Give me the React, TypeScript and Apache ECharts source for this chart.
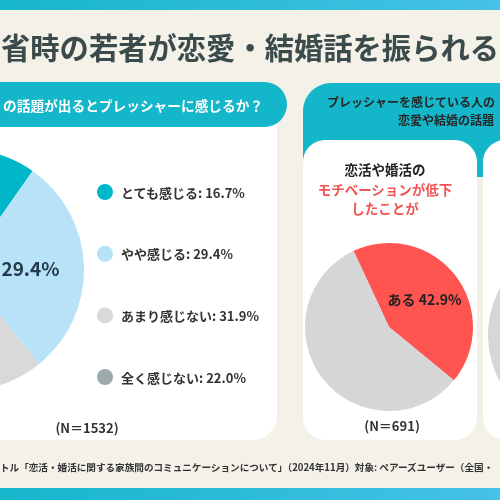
import React, { useEffect, useRef } from "react";
import * as echarts from "echarts";

const FONT = '"Noto Sans CJK JP", "Noto Sans", sans-serif';

const titleText = "省時の若者が恋愛・結婚話を振られる";
const leftHeader = "の話題が出るとプレッシャーに感じるか？";
const rightHeaderLines = ["プレッシャーを感じている人の", "恋愛や結婚の話題"];

const pressureCategories = ["とても感じる", "やや感じる", "あまり感じない", "全く感じない"];
const pressureValues = [16.7, 29.4, 31.9, 22.0];
const pressureColors = ["#00b6c9", "#b8e2f8", "#d9d9d9", "#9eaaaa"];
const pressureN = "(N＝1532)";

const motivationTitle = ["恋活や婚活の", "モチベーションが低下", "したことが"];
const motivationCategories = ["ある", "ない"];
const motivationValues = [42.9, 57.1];
const motivationN = "(N＝691)";

const secondCategories = ["ある", "ない"];
const secondValues = [40.0, 60.0];

const yesNoColors = ["#ff5450", "#d6d6d6"];

const footnote =
  "トル「恋活・婚活に関する家族間のコミュニケーションについて」（2024年11月）対象: ペアーズユーザー（全国・";

const TEAL = "#14b6ca";

export default function App() {
  const ref = useRef<HTMLDivElement>(null);
  useEffect(() => {
    if (!ref.current) return;
    const chart = echarts.init(ref.current, null, { renderer: "svg" });
    const valueMap: Record<string, number> = {};
    pressureCategories.forEach((c, i) => (valueMap[c] = pressureValues[i]));

    const band = () =>
      new echarts.graphic.LinearGradient(0, 0, 1, 0, [
        { offset: 0, color: "#16b6cb" },
        { offset: 1, color: "#45c2e6" },
      ]);

    const txt = (
      text: string,
      x: number,
      y: number,
      size: number,
      color: string,
      align: string = "left",
      weight: string = "bold"
    ) => ({
      type: "text",
      x,
      y,
      silent: true,
      style: {
        text,
        fill: color,
        fontSize: size,
        fontWeight: weight,
        fontFamily: FONT,
        textAlign: align,
        textVerticalAlign: "middle",
      },
    });

    const option: any = {
      animation: false,
      graphic: [
        { type: "rect", shape: { x: 0, y: 0, width: 500, height: 500 }, style: { fill: "#f3f1e8" }, silent: true },
        { type: "rect", shape: { x: 0, y: 0, width: 500, height: 10 }, style: { fill: band() }, silent: true },
        { type: "rect", shape: { x: 0, y: 488, width: 500, height: 12 }, style: { fill: band() }, silent: true },
        txt(titleText, 1, 46, 29.3, "#3b4a4a"),
        // left panel
        { type: "rect", shape: { x: -30, y: 100, width: 307, height: 340, r: 24 }, style: { fill: "#ffffff" }, silent: true },
        { type: "rect", shape: { x: -40, y: 82, width: 327, height: 45, r: 22.5 }, style: { fill: TEAL }, silent: true },
        txt(leftHeader, 3, 105, 13.7, "#ffffff"),
        txt(pressureN, 87, 427, 13, "#333333", "center"),
        // right panel
        { type: "rect", shape: { x: 303, y: 83, width: 240, height: 94, r: [28, 0, 0, 0] }, style: { fill: TEAL }, silent: true },
        txt(rightHeaderLines[0], 327, 101.8, 12, "#262626"),
        txt(rightHeaderLines[1], 398, 119.2, 12, "#262626"),
        { type: "rect", shape: { x: 303, y: 140, width: 174, height: 300, r: 22 }, style: { fill: "#ffffff" }, silent: true },
        { type: "rect", shape: { x: 483, y: 140, width: 60, height: 300, r: 22 }, style: { fill: "#ffffff" }, silent: true },
        txt(motivationTitle[0], 385, 169, 13.5, "#222222", "center"),
        txt(motivationTitle[1], 385, 189, 13.5, "#f25454", "center"),
        txt(motivationTitle[2], 385, 208, 13.5, "#f25454", "center"),
        txt(motivationN, 392, 425, 13, "#333333", "center"),
        txt(footnote, 0, 467, 9.6, "#333333"),
      ],
      legend: {
        orient: "vertical",
        left: 92,
        top: 179,
        itemGap: 45.7,
        icon: "circle",
        itemWidth: 16,
        itemHeight: 16,
        selectedMode: false,
        data: pressureCategories,
        formatter: (name: string) => `${name}: ${valueMap[name].toFixed(1)}%`,
        textStyle: {
          fontSize: 13,
          lineHeight: 16,
          fontWeight: "bold",
          color: "#333333",
          fontFamily: FONT,
          padding: [0, 0, 0, 3],
        },
      },
      series: [
        {
          type: "pie",
          center: [-37, 270],
          radius: 121,
          startAngle: 115,
          clockwise: true,
          silent: true,
          labelLine: { show: false },
          label: {
            position: "inside",
            formatter: (p: any) => `${p.value.toFixed(1)}%`,
            fontSize: 19,
            fontWeight: "bold",
            color: "#233a48",
            fontFamily: FONT,
            padding: [0, 0, 0, 8],
          },
          data: pressureCategories.map((n, i) => ({
            name: n,
            value: pressureValues[i],
            itemStyle: { color: pressureColors[i] },
            label: { show: i === 1 },
          })),
        },
        {
          type: "pie",
          center: [389, 327],
          radius: 84,
          startAngle: 115,
          clockwise: true,
          silent: true,
          labelLine: { show: false },
          label: {
            position: "inside",
            formatter: (p: any) => `${p.name} ${p.value.toFixed(1)}%`,
            fontSize: 14,
            fontWeight: "bold",
            color: "#222222",
            fontFamily: FONT,
          },
          data: motivationCategories.map((n, i) => ({
            name: n,
            value: motivationValues[i],
            itemStyle: { color: yesNoColors[i] },
            label: { show: i === 0 },
          })),
        },
        {
          type: "pie",
          center: [586, 335],
          radius: 98,
          startAngle: 115,
          clockwise: true,
          silent: true,
          label: { show: false },
          labelLine: { show: false },
          data: secondCategories.map((n, i) => ({
            name: n,
            value: secondValues[i],
            itemStyle: { color: yesNoColors[i] },
          })),
        },
      ],
    };
    chart.setOption(option);
    return () => chart.dispose();
  }, []);
  return (
    <div
      ref={ref}
      style={{ position: "fixed", left: 0, top: 0, width: 500, height: 500 }}
    />
  );
}
